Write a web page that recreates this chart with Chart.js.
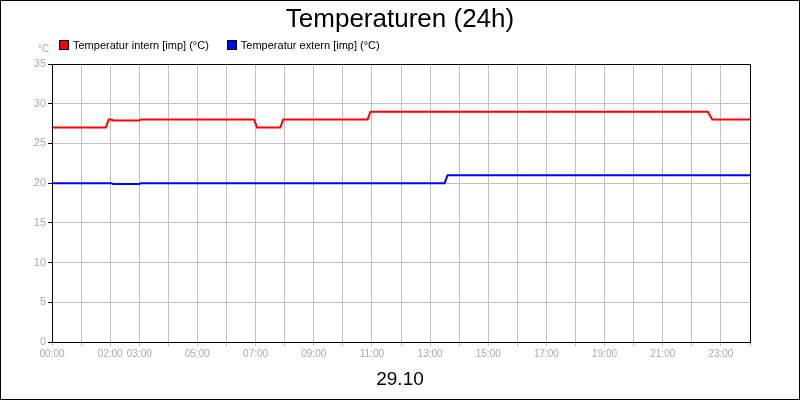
<!DOCTYPE html>
<html><head><meta charset="utf-8">
<script src="https://cdn.jsdelivr.net/npm/chart.js@4"></script>
<style>
body{margin:0;background:#fff}
#w{position:relative;width:798px;height:398px;border:1px solid #000;background:#fff}
#t{position:absolute;left:0;width:798px;top:2px;text-align:center;font:26px "Liberation Sans",sans-serif;color:#000}
#d{position:absolute;left:0;width:798px;top:367px;text-align:center;font:19px "Liberation Sans",sans-serif;color:#000}
#u{position:absolute;left:37px;top:42px;font:10px "Liberation Sans",sans-serif;color:#aaa}
#lg{position:absolute;left:58px;top:38px;font:11px "Liberation Sans",sans-serif;color:#000}
#lg span.b{display:inline-block;width:8px;height:8px;border:1px solid #000;margin-right:4px;vertical-align:-1px}
canvas{position:absolute;left:0;top:0}
</style></head><body>
<div id="w"><canvas id="c" width="798" height="398"></canvas>
<div id="t">Temperaturen (24h)</div>
<div id="u">°C</div>
<div id="lg"><span class="b" style="background:#f00"></span>Temperatur intern [imp] (°C)<span style="display:inline-block;width:18px"></span><span class="b" style="background:#00f"></span>Temperatur extern [imp] (°C)</div>
<div id="d">29.10</div></div>
<script>
const seriesNames=["Temperatur intern [imp] (°C)","Temperatur extern [imp] (°C)"];
const internX=[0,1.85,1.95,2.05,2.1,3.0,3.05,6.95,7.05,7.85,7.95,10.85,10.95,22.55,22.7,24];
const internY=[27,27,28,28,27.9,27.9,28,28,27,27,28,28,29,29,28,28];
const externX=[0,2.05,2.1,3.0,3.05,13.5,13.6,24];
const externY=[20,20,19.9,19.9,20,20,21,21];
const tickLabels=[0,2,3,5,7,9,11,13,15,17,19,21,23];
const yTicks=[0,5,10,15,20,25,30,35];
const pts=(xs,ys)=>xs.map((x,i)=>({x,y:ys[i]}));
const border={id:'bd',afterDraw(c){const a=c.chartArea,x=c.ctx;x.save();x.strokeStyle='#000';x.lineWidth=1;x.strokeRect(a.left+0.5,a.top+0.5,a.width,a.height);x.restore();}};
new Chart(document.getElementById('c'),{type:'line',
data:{datasets:[
{label:seriesNames[0],data:pts(internX,internY),borderColor:'#f00',borderWidth:2,pointRadius:0,tension:0},
{label:seriesNames[1],data:pts(externX,externY),borderColor:'#00f',borderWidth:2,pointRadius:0,tension:0}]},
options:{responsive:false,animation:false,
layout:{padding:{left:0,right:49,top:63,bottom:37}},
plugins:{legend:{display:false},title:{display:false},tooltip:{enabled:false}},
scales:{
x:{type:'linear',min:0,max:24,grid:{color:'#c0c0c0',drawTicks:true,tickLength:4,tickColor:'#c0c0c0'},border:{display:false},
 ticks:{stepSize:1,autoSkip:false,maxRotation:0,color:'#aaa',font:{size:10,family:'Liberation Sans'},padding:2,
 callback:v=>tickLabels.includes(v)?String(v).padStart(2,'0')+':00':''}},
y:{min:0,max:35,afterFit(s){s.width=51;},grid:{color:'#c0c0c0',tickLength:4,tickColor:'#000'},border:{display:false},
 ticks:{stepSize:5,color:'#aaa',font:{size:11,family:'Liberation Sans'},padding:2,callback:v=>yTicks.includes(v)?v:''}}}},
plugins:[border]});
</script></body></html>
